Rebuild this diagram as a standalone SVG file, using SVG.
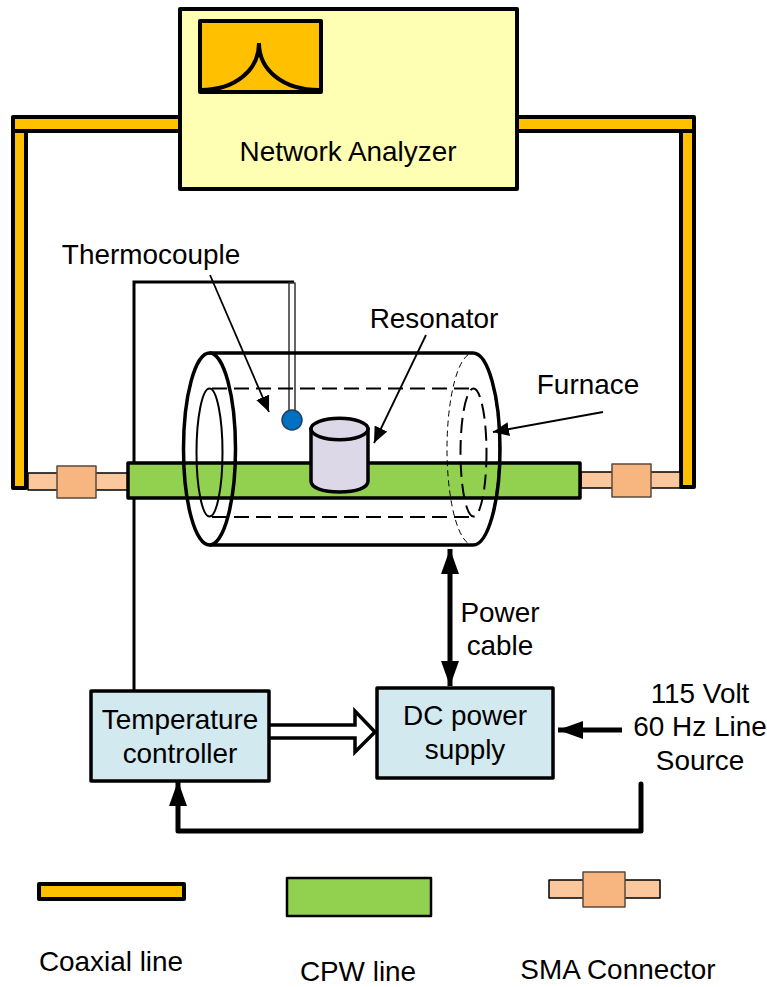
<svg xmlns="http://www.w3.org/2000/svg" width="767" height="987" viewBox="0 0 767 987">
<style>
text{font-family:"Liberation Sans",Arial,sans-serif;font-size:27.9px;fill:#000;text-anchor:middle}
rect{stroke-linejoin:round}
.coax{fill:#ffc000;stroke:#000;stroke-width:4}
.cpw{fill:#92d050;stroke:#000;stroke-width:3.5}
.box{fill:#d2e9f0;stroke:#000;stroke-width:3.5}
.smaS{fill:#fac89c;stroke:#000;stroke-width:1.5}
.smaB{fill:#f7b680;stroke:#5a4a3c;stroke-width:1.5}
.l{fill:none;stroke:#000;stroke-width:3}
.thin{fill:none;stroke:#000;stroke-width:1.8}
.f{fill:none;stroke:#000;stroke-width:3.5}
</style>
<defs>
<marker id="a" markerUnits="userSpaceOnUse" markerWidth="17" markerHeight="14" refX="16" refY="7" orient="auto"><path d="M0 0L16 7L0 14Z" fill="#000"/></marker>
<marker id="b" markerUnits="userSpaceOnUse" markerWidth="26" markerHeight="18" refX="25" refY="9" orient="auto-start-reverse"><path d="M0 0L25 9L0 18Z" fill="#000"/></marker>
</defs>
<g id="coax-left"><rect class="coax" x="13" y="131" width="13" height="357"/><rect class="coax" x="13" y="117" width="167" height="14"/></g>
<g id="coax-right"><rect class="coax" x="681" y="131" width="13" height="356"/><rect class="coax" x="517" y="117" width="177" height="14"/></g>
<g id="analyzer"><rect x="180" y="9" width="337" height="180" fill="#ffffb3" stroke="#000" stroke-width="4"/>
<rect x="200" y="21" width="121" height="71" fill="#ffc000" stroke="#000" stroke-width="4"/>
<path d="M201 90C235 90 259 70 259 43C259 70 283 90 319 90" fill="none" stroke="#000" stroke-width="4" stroke-linecap="round"/>
<text x="348" y="161">Network Analyzer</text></g>
<g id="sma-left"><rect class="smaS" x="28" y="473" width="100" height="17"/><rect class="smaB" x="57" y="466" width="39" height="32"/></g>
<g id="sma-right"><rect class="smaS" x="581" y="472" width="99" height="16"/><rect class="smaB" x="612" y="464" width="39" height="33"/></g>
<g id="connectors">
<path class="l" d="M134 690V282H294"/>
<path d="M210 275L269 412" class="thin" marker-end="url(#a)"/>
<path d="M426 335L374 443" class="thin" marker-end="url(#a)"/>
<path d="M603 412L493 432" class="thin" marker-end="url(#a)"/>
<path d="M450 549V686" fill="none" stroke="#000" stroke-width="5" marker-start="url(#b)" marker-end="url(#b)"/>
<path d="M622 730H558" fill="none" stroke="#000" stroke-width="5" marker-end="url(#b)"/>
<path d="M641 784V831H178V781" fill="none" stroke="#000" stroke-width="5" stroke-linejoin="round" stroke-linecap="round" marker-end="url(#b)"/>
<path d="M269 725H355V711L375 732L355 752V738H269" fill="#fff" stroke="#000" stroke-width="3.5"/>
</g>
<g id="cpw"><rect class="cpw" x="128" y="463" width="452" height="35"/></g>
<g id="thermocouple"><rect x="289" y="283" width="6" height="128" fill="#fbfbfb" stroke="#333" stroke-width="1.500"/><circle cx="292" cy="420" r="10" fill="#0070c0" stroke="#1f3f66" stroke-width="1.500"/></g>
<g id="furnace">
<ellipse class="f" cx="209.500" cy="449" rx="26" ry="96"/>
<ellipse cx="209.500" cy="452.500" rx="13" ry="64" fill="none" stroke="#000" stroke-width="2"/>
<path class="f" d="M209.500 353H473C488 353 500 396 500 449S488 545 473 545H209.500"/>
<path d="M212 388.500H473M212 517H473" fill="none" stroke="#000" stroke-width="2" stroke-dasharray="15 7"/>
<ellipse cx="473" cy="449" rx="26" ry="96" fill="none" stroke="#000" stroke-width="1" stroke-dasharray="6 4"/>
<ellipse cx="473.500" cy="452.500" rx="13" ry="64" fill="none" stroke="#000" stroke-width="2" stroke-dasharray="15 7"/>
</g>
<g id="resonator"><path d="M311 429V481C311 488 323 492 339.500 492S368 488 368 481V429Z" fill="#dcd8e8" stroke="#000" stroke-width="3.500"/><ellipse cx="339.500" cy="429" rx="28.500" ry="10.700" fill="#dcd8e8" stroke="#000" stroke-width="3.500"/></g>
<g id="temp-controller"><rect class="box" x="91" y="691" width="178" height="90"/><text x="180" y="728.500">Temperature</text><text x="180" y="762.500">controller</text></g>
<g id="dc-supply"><rect class="box" x="377" y="688" width="176" height="90"/><text x="465" y="725">DC power</text><text x="465" y="759">supply</text></g>
<g id="labels">
<text x="151" y="264">Thermocouple</text>
<text x="434" y="328">Resonator</text>
<text x="588" y="394">Furnace</text>
<text x="500" y="622">Power</text><text x="500" y="655">cable</text>
<text x="700" y="703">115 Volt</text><text x="700" y="736">60 Hz Line</text><text x="700" y="769.500">Source</text>
</g>
<g id="legend-coax"><rect class="coax" x="39" y="884" width="145" height="15"/><text x="111" y="971">Coaxial line</text></g>
<g id="legend-cpw"><rect x="287" y="878" width="144" height="38" fill="#92d050" stroke="#000" stroke-width="2.500"/><text x="358" y="981">CPW line</text></g>
<g id="legend-sma"><rect class="smaS" x="549" y="880" width="111" height="18"/><rect class="smaB" x="583" y="872" width="42" height="35"/><text x="618" y="979">SMA Connector</text></g>
</svg>
